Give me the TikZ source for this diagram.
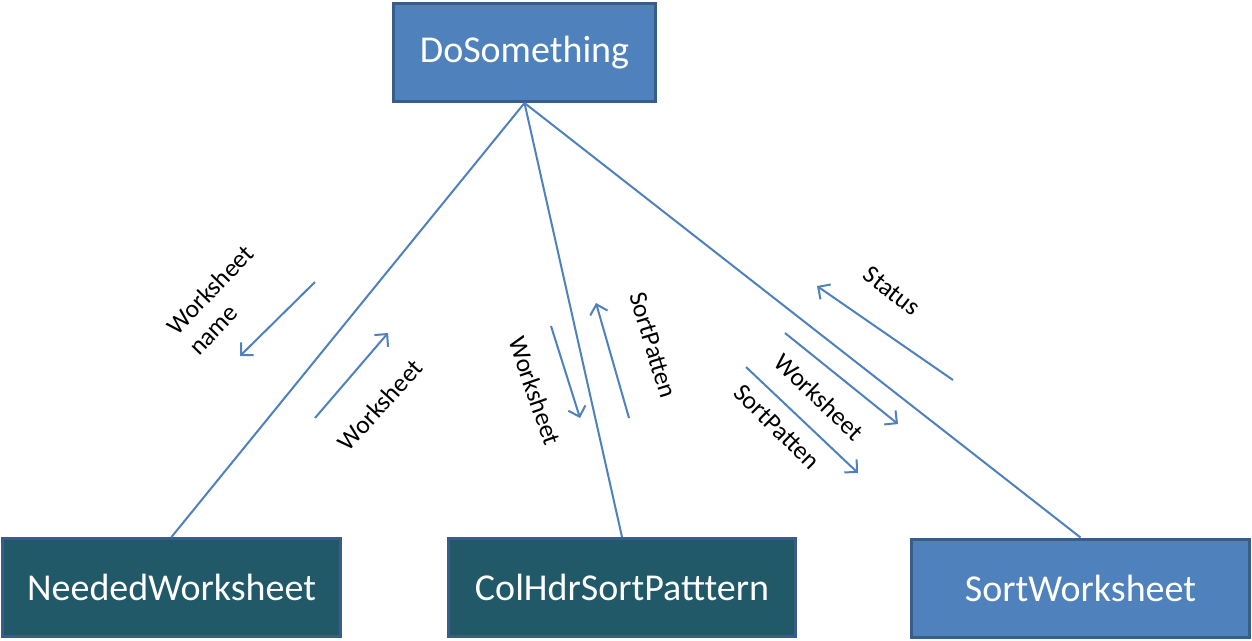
\documentclass[tikz,border=0pt]{standalone}
\usepackage{fontspec}
\setmainfont{Carlito}
\usetikzlibrary{arrows.meta}
\definecolor{boxblue}{HTML}{4F81BD}
\definecolor{boxteal}{HTML}{215968}
\definecolor{edgeblue}{HTML}{385D8A}
\begin{document}
\begin{tikzpicture}[x=1pt,y=-1pt,
  box/.style={draw=edgeblue,line width=3pt,text=white,font=\fontsize{38}{42}\selectfont,inner sep=0pt,minimum height=98pt},
  link/.style={draw=boxblue,line width=2pt},
  flow/.style={draw=boxblue,line width=2pt,-{Straight Barb[length=9pt,width=18pt]}},
  lbl/.style={font=\fontsize{25.5}{30}\selectfont,inner sep=0pt,text=black}]
\useasboundingbox[fill=white] (0,0) rectangle (1252,640);
\node[box,fill=boxblue,minimum width=262pt] (do) at (524.5,52.5) {DoSomething};
\node[box,fill=boxteal,minimum width=338pt] (need) at (171.5,587.5) {NeededWorksheet};
\node[box,fill=boxteal,minimum width=347pt] (col) at (622,587.5) {ColHdrSortPatttern};
\node[box,fill=boxblue,minimum width=338pt] (sort) at (1080.5,588) {SortWorksheet};
\draw[link] (do.south) -- (need.north);
\draw[link] (do.south) -- (col.north);
\draw[link] (do.south) -- (sort.north);
% arrow end points
\coordinate (a1s) at (315,282); \coordinate (a1e) at (240,356);
\coordinate (a2s) at (315,418); \coordinate (a2e) at (388,333);
\coordinate (a3s) at (551,326); \coordinate (a3e) at (580,418);
\coordinate (a4s) at (629,418); \coordinate (a4e) at (596,303);
\coordinate (a5s) at (953,380); \coordinate (a5e) at (817,286);
\coordinate (a6s) at (785,333); \coordinate (a6e) at (898,424);
\coordinate (a7s) at (746,367); \coordinate (a7e) at (858,473);
\draw[flow] (a1s) -- (a1e);
\draw[flow] (a2s) -- (a2e);
\draw[flow] (a3s) -- (a3e);
\draw[flow] (a4s) -- (a4e);
\draw[flow] (a5s) -- (a5e);
\draw[flow] (a6s) -- (a6e);
\draw[flow] (a7s) -- (a7e);
% labels
\node[lbl,rotate=46,align=left] (l1) at (221,300) {Worksheet\\name};
\node[lbl,rotate=48] (l2) at (380,405) {Worksheet};
\node[lbl,rotate=-71] (l3) at (535,391) {Worksheet};
\node[lbl,rotate=-73] (l4) at (653,345) {SortPatten};
\node[lbl,rotate=-38] (l5) at (892,291) {Status};
\node[lbl,rotate=-44] (l6) at (819,397) {Worksheet};
\node[lbl,rotate=-45] (l7) at (777,427) {SortPatten};
\end{tikzpicture}
\end{document}
